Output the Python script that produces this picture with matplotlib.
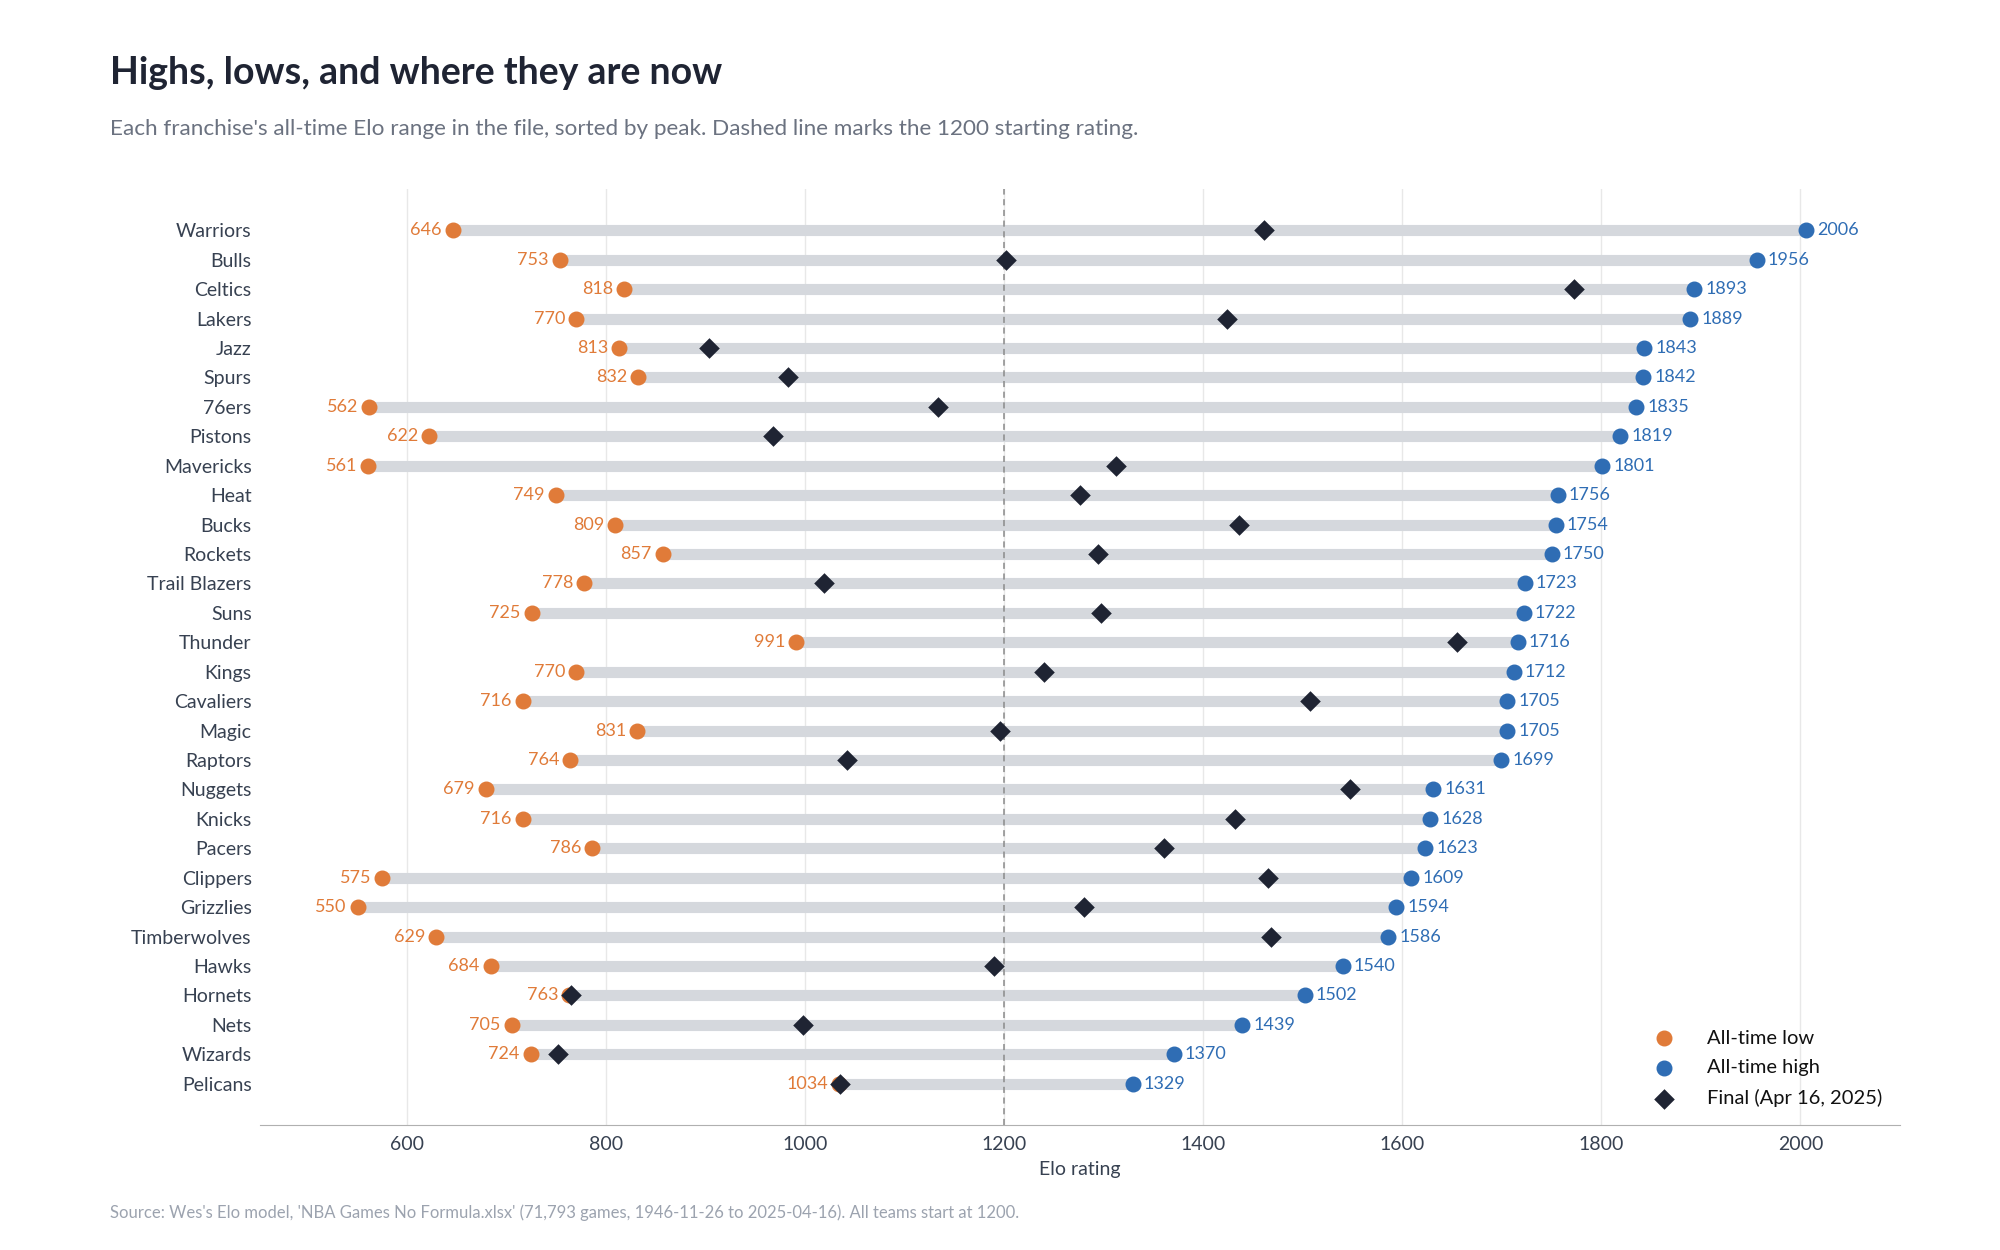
import numpy as np
import matplotlib
matplotlib.use('Agg')
import matplotlib.pyplot as plt

plt.rcParams['font.family'] = ['Lato', 'DejaVu Sans']

teams = ['Warriors', 'Bulls', 'Celtics', 'Lakers', 'Jazz', 'Spurs', '76ers', 'Pistons',
         'Mavericks', 'Heat', 'Bucks', 'Rockets', 'Trail Blazers', 'Suns', 'Thunder',
         'Kings', 'Cavaliers', 'Magic', 'Raptors', 'Nuggets', 'Knicks', 'Pacers',
         'Clippers', 'Grizzlies', 'Timberwolves', 'Hawks', 'Hornets', 'Nets', 'Wizards',
         'Pelicans']
lows = [646, 753, 818, 770, 813, 832, 562, 622, 561, 749, 809, 857, 778, 725, 991,
        770, 716, 831, 764, 679, 716, 786, 575, 550, 629, 684, 763, 705, 724, 1034]
highs = [2006, 1956, 1893, 1889, 1843, 1842, 1835, 1819, 1801, 1756, 1754, 1750, 1723,
         1722, 1716, 1712, 1705, 1705, 1699, 1631, 1628, 1623, 1609, 1594, 1586, 1540,
         1502, 1439, 1370, 1329]
finals = [1461, 1202, 1772, 1424, 903, 983, 1133, 967, 1312, 1276, 1436, 1294, 1019,
          1297, 1655, 1240, 1507, 1196, 1042, 1547, 1432, 1360, 1465, 1280, 1468, 1190,
          765, 998, 751, 1035]

orange = '#e07b39'
blue = '#2f6db4'
dark = '#1f2433'
bar = '#d5d8dd'

fig = plt.figure(figsize=(20, 12.5), dpi=100)
ax = fig.add_axes([0.13, 0.10, 0.82, 0.7488])

y = np.arange(len(teams))[::-1]

ax.hlines(y, lows, highs, color=bar, linewidth=8, zorder=1)
ax.axvline(1200, color='#8a8a8a', linestyle=(0, (4, 3)), linewidth=1.1, zorder=1.5)
ax.scatter(lows, y, s=110, color=orange, zorder=3, label='All-time low')
ax.scatter(highs, y, s=110, color=blue, zorder=3, label='All-time high')
ax.scatter(finals, y, s=110, marker='D', color=dark, zorder=4,
           label='Final (Apr 16, 2025)', linewidths=0)

for yi, lo, hi in zip(y, lows, highs):
    ax.annotate(str(lo), (lo, yi), xytext=(-8, 0), textcoords='offset points',
                ha='right', va='center', fontsize=13, color=orange)
    ax.annotate(str(hi), (hi, yi), xytext=(8, 0), textcoords='offset points',
                ha='left', va='center', fontsize=13, color=blue)

ax.set_yticks(y)
ax.set_yticklabels(teams, fontsize=14, color='#374151')
ax.set_xticks([600, 800, 1000, 1200, 1400, 1600, 1800, 2000])
ax.tick_params(axis='x', labelsize=14, labelcolor='#374151', length=0, pad=8)
ax.tick_params(axis='y', length=0, pad=6)
ax.set_xlim(452, 2100)
ax.set_ylim(-1.4, len(teams) - 1 + 1.4)
ax.set_xlabel('Elo rating', fontsize=14, color='#374151', labelpad=6)

ax.grid(axis='x', color='#e8e8e8', linewidth=1)
ax.set_axisbelow(True)
for s in ['top', 'right', 'left']:
    ax.spines[s].set_visible(False)
ax.spines['bottom'].set_color('#b0b0b0')

leg = ax.legend(loc='lower right', frameon=False, fontsize=14.5, handletextpad=1.1,
                labelspacing=0.62, bbox_to_anchor=(1.0, 0.0))
for t in leg.get_texts():
    t.set_color('#111111')

fig.text(0.055, 0.942, 'Highs, lows, and where they are now', fontsize=27,
         fontweight='bold', color='#1f2433', va='center')
fig.text(0.055, 0.897, "Each franchise's all-time Elo range in the file, sorted by peak. "
         "Dashed line marks the 1200 starting rating.", fontsize=16.2, color='#6b7280',
         va='center')
fig.text(0.055, 0.03, "Source: Wes's Elo model, 'NBA Games No Formula.xlsx' (71,793 games, "
         "1946-11-26 to 2025-04-16). All teams start at 1200.", fontsize=12,
         color='#9ca3af', va='center')

fig.savefig('out.png', dpi=100, facecolor='white')
